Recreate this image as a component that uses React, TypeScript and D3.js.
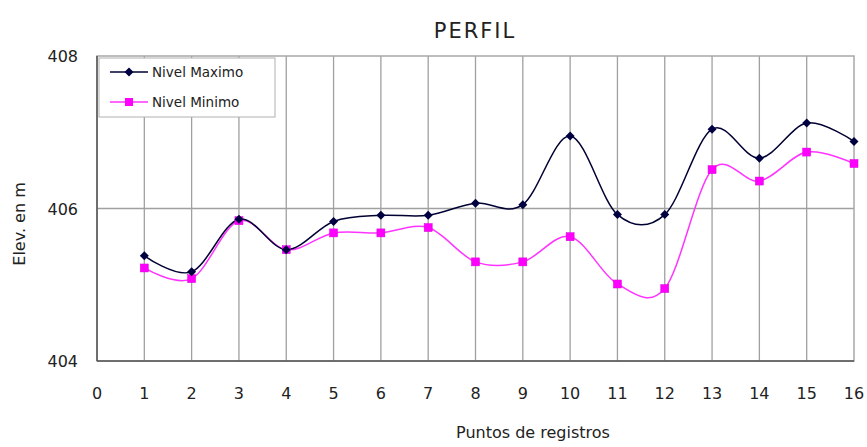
import React from "react";
import * as d3 from "d3";

const points = [1, 2, 3, 4, 5, 6, 7, 8, 9, 10, 11, 12, 13, 14, 15, 16];
const nivelMaximo = [405.38, 405.17, 405.86, 405.46, 405.83, 405.91, 405.91, 406.07, 406.05, 406.95, 405.92, 405.92, 407.04, 406.66, 407.12, 406.88];
const nivelMinimo = [405.22, 405.08, 405.84, 405.46, 405.68, 405.68, 405.75, 405.30, 405.30, 405.63, 405.01, 404.95, 406.51, 406.36, 406.74, 406.59];
const xTicks = d3.range(0, 17);
const yTicks = [404, 406, 408];
const seriesNames = ["Nivel Maximo", "Nivel Minimo"];

const W = 867;
const H = 447;
const left = 97;
const right = 854;
const top = 56;
const bottom = 361;
const FONT = "'DejaVu Sans', Verdana, sans-serif";

export default function App() {
  const x = d3.scaleLinear().domain([0, 16]).range([left, right]);
  const y = d3.scaleLinear().domain([404, 408]).range([bottom, top]);
  const line = d3
    .line<number>()
    .x((_, i) => x(points[i]))
    .y((d) => y(d))
    .curve(d3.curveCardinal.tension(0));
  const maxColor = "#000033";
  const minColor = "#ff33ff";

  const diamond = (cx: number, cy: number, r: number) =>
    `M${cx},${cy - r}L${cx + r},${cy}L${cx},${cy + r}L${cx - r},${cy}Z`;

  return (
    <div style={{ position: "absolute", left: 0, top: 0 }}>
      <svg width={W} height={H} style={{ display: "block", background: "#fff" }}>
        <text x={475} y={38} textAnchor="middle" fontFamily={FONT} fontSize={21} letterSpacing={2} fill="#222">
          PERFIL
        </text>
        {/* vertical grid */}
        {xTicks.slice(1, 16).map((t) => (
          <line key={t} x1={x(t)} x2={x(t)} y1={top} y2={bottom} stroke="#a0a0a0" strokeWidth={1.3} />
        ))}
        {/* horizontal grid */}
        <line x1={left} x2={right} y1={y(406)} y2={y(406)} stroke="#a0a0a0" strokeWidth={1.3} />
        {/* plot border */}
        <rect x={left} y={top} width={right - left} height={bottom - top} fill="none" stroke="#a8a8a8" strokeWidth={1.5} />
        <line x1={left} x2={left} y1={top} y2={bottom} stroke="#555" strokeWidth={1.5} />
        <line x1={left} x2={right} y1={bottom} y2={bottom} stroke="#555" strokeWidth={1.5} />
        {/* y tick labels */}
        {yTicks.map((t) => (
          <text key={t} x={78} y={y(t) + 6} textAnchor="end" fontFamily={FONT} fontSize={16} fill="#222">
            {t}
          </text>
        ))}
        {/* x tick labels */}
        {xTicks.map((t) => (
          <text key={t} x={x(t)} y={399} textAnchor="middle" fontFamily={FONT} fontSize={16} fill="#222">
            {t}
          </text>
        ))}
        <text x={533} y={438} textAnchor="middle" fontFamily={FONT} fontSize={16} fill="#222">
          Puntos de registros
        </text>
        <text
          transform={`translate(25,224) rotate(-90)`}
          textAnchor="middle"
          fontFamily={FONT}
          fontSize={16}
          fill="#222"
        >
          Elev. en m
        </text>
        {/* series */}
        <path d={line(nivelMinimo) || ""} fill="none" stroke={minColor} strokeWidth={1.5} />
        <path d={line(nivelMaximo) || ""} fill="none" stroke={maxColor} strokeWidth={1.5} />
        {nivelMinimo.map((v, i) => (
          <rect key={"mn" + i} x={x(points[i]) - 4} y={y(v) - 4} width={8} height={8} fill="#ff00ff" stroke="#dd00dd" strokeWidth={0.5} />
        ))}
        {nivelMaximo.map((v, i) => (
          <path key={"mx" + i} d={diamond(x(points[i]), y(v), 4.5)} fill="#000040" />
        ))}
        {/* legend */}
        <rect x={99} y={58} width={176} height={59} fill="#fff" stroke="#b0b0b0" strokeWidth={1} />
        <line x1={110} x2={148} y1={72} y2={72} stroke={maxColor} strokeWidth={1.5} />
        <path d={diamond(129, 72, 4.5)} fill="#000040" />
        <text x={152} y={77} fontFamily={FONT} fontSize={13.5} fill="#222">
          {seriesNames[0]}
        </text>
        <line x1={110} x2={148} y1={102} y2={102} stroke={minColor} strokeWidth={1.5} />
        <rect x={125} y={98} width={8} height={8} fill="#ff00ff" />
        <text x={152} y={107} fontFamily={FONT} fontSize={13.5} fill="#222">
          {seriesNames[1]}
        </text>
      </svg>
    </div>
  );
}
